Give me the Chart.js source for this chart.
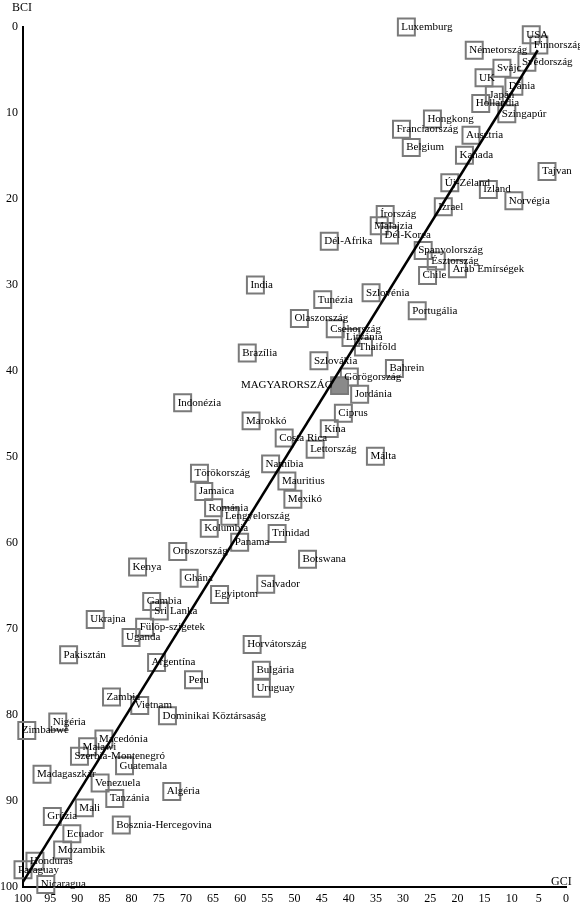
<!DOCTYPE html>
<html><head><meta charset="utf-8">
<script src="https://cdn.jsdelivr.net/npm/chart.js@4/dist/chart.umd.min.js"></script>
<style>html,body{margin:0;padding:0;background:#fff}#w{width:580px;height:908px;position:relative}</style>
</head><body><div id="w"><canvas id="c"></canvas></div>
<script>
const countries=["Luxemburg","USA","Finnország","Németország","Svájc","Svédország","UK","Japán","Dánia","Hollandia","Szingapúr","Hongkong","Franciaország","Ausztria","Belgium","Kanada","Tajvan","Új-Zéland","Izland","Norvégia","Izrael","Írország","Malajzia","Dél-Korea","Dél-Afrika","Spanyolország","Észtország","Arab Emírségek","Chile","India","Szlovénia","Tunézia","Portugália","Olaszország","Csehország","Litvánia","Thaiföld","Brazília","Szlovákia","Bahrein","Görögország","MAGYARORSZÁG","Jordánia","Indonézia","Ciprus","Marokkó","Kína","Costa Rica","Lettország","Málta","Namíbia","Törökország","Mauritius","Jamaica","Mexikó","Románia","Lengyelország","Kolumbia","Trinidad","Panama","Oroszország","Botswana","Kenya","Ghána","Salvador","Egyiptom","Gambia","Sri Lanka","Ukrajna","Fülöp-szigetek","Uganda","Horvátország","Pakisztán","Argentína","Bulgária","Peru","Uruguay","Zambia","Vietnam","Dominikai Köztársaság","Nigéria","Zimbabwe","Macedónia","Malawi","Szerbia-Montenegró","Guatemala","Madagaszkár","Venezuela","Algéria","Tanzánia","Mali","Grúzia","Bosznia-Hercegovina","Ecuador","Mozambik","Honduras","Paraguay","Nicaragua"];
const gci=[29.4,6.4,5.0,16.9,11.8,7.2,15.1,13.2,9.6,15.7,10.9,24.6,30.3,17.5,28.5,18.7,3.5,21.4,14.3,9.6,22.6,33.3,34.4,32.5,43.6,26.3,23.9,20.0,25.5,57.2,35.9,44.8,27.4,49.1,42.5,39.6,37.3,58.7,45.5,31.6,39.9,41.7,38.0,70.6,41.0,58.0,43.6,51.9,46.2,35.1,54.4,67.5,51.4,66.7,50.3,64.9,61.9,65.7,53.2,60.1,71.5,47.6,78.9,69.4,55.3,63.8,76.3,74.9,86.7,77.6,80.1,57.8,91.6,75.4,56.1,68.6,56.1,83.7,78.5,73.4,93.6,99.3,85.1,88.1,89.6,81.3,96.5,85.8,72.6,83.1,88.7,94.6,81.9,91.0,92.7,97.8,100.0,95.8];
const bci=[0,0.9,2.1,2.7,4.8,4.1,5.9,7.9,6.9,8.9,10.1,10.7,11.9,12.6,14.0,14.9,16.8,18.1,18.9,20.2,20.9,21.8,23.1,24.2,24.9,26.0,27.2,28.1,28.9,30.0,30.9,31.7,33.0,33.9,35.1,36.1,37.2,37.9,38.8,39.7,40.7,41.7,42.7,43.7,44.9,45.8,46.7,47.8,49.1,49.9,50.8,51.9,52.8,54.0,54.9,55.9,56.9,58.3,58.9,59.9,61.0,61.9,62.8,64.1,64.8,66.0,66.8,67.9,68.9,69.8,71.0,71.8,73.0,73.9,74.8,75.9,76.9,77.9,78.9,80.1,80.8,81.8,82.8,83.7,84.8,85.9,86.9,87.9,88.9,89.7,90.8,91.8,92.8,93.8,95.7,97.0,98.0,99.7];
const trendGci=[100,5.2], trendBci=[99.4,2.7];
const hu="MAGYARORSZÁG";
const pts=gci.map((g,i)=>({x:g,y:bci[i],n:countries[i]}));
const FONT='"Liberation Serif","DejaVu Serif",serif';
const labels={id:'labels',afterDatasetsDraw(ch){
  const ctx=ch.ctx,xs=ch.scales.x,ys=ch.scales.y;
  ctx.save();ctx.font='11px '+FONT;ctx.fillStyle='#000';ctx.textBaseline='middle';
  pts.forEach(p=>{const px=xs.getPixelForValue(p.x),py=ys.getPixelForValue(p.y);
    if(p.n===hu){ctx.textAlign='right';ctx.fillText(p.n,px-7,py-1);}
    else{ctx.textAlign='left';ctx.fillText(p.n,px-5,py);}});
  ctx.font='12px '+FONT;ctx.textAlign='left';
  ctx.fillText('BCI',12,8);ctx.fillText('GCI',551,882);
  ctx.restore();}};
new Chart(document.getElementById('c'),{
  type:'scatter',
  data:{datasets:[
    {data:pts,pointStyle:'rect',pointRadius:12,pointHoverRadius:12,borderWidth:2,
     borderColor:'#7a7a7a',backgroundColor:pts.map(p=>p.n===hu?'#8a8a8a':'rgba(255,255,255,0)'),clip:false,order:1},
    {type:'line',data:trendGci.map((g,i)=>({x:g,y:trendBci[i]})),borderColor:'#000',borderWidth:2.5,pointRadius:0,fill:false,order:0}
  ]},
  options:{responsive:true,maintainAspectRatio:false,animation:false,
    layout:{padding:{top:27,right:13,left:0,bottom:0}},
    plugins:{legend:{display:false},tooltip:{enabled:false}},
    scales:{
      x:{type:'linear',reverse:true,min:0,max:100,afterFit(s){s.height=21;},
        ticks:{stepSize:5,color:'#000',font:{family:FONT,size:12},padding:1,maxRotation:0,autoSkip:false},
        grid:{display:false,drawTicks:true,tickLength:4,tickColor:'#000'},border:{color:'#000',width:2}},
      y:{type:'linear',reverse:true,min:0,max:100,afterFit(s){s.width=23;},
        ticks:{stepSize:10,color:'#000',font:{family:FONT,size:12},padding:1},
        grid:{display:false,drawTicks:true,tickLength:4,tickColor:'#000'},border:{color:'#000',width:2}}
    }},
  plugins:[labels]});
</script></body></html>
